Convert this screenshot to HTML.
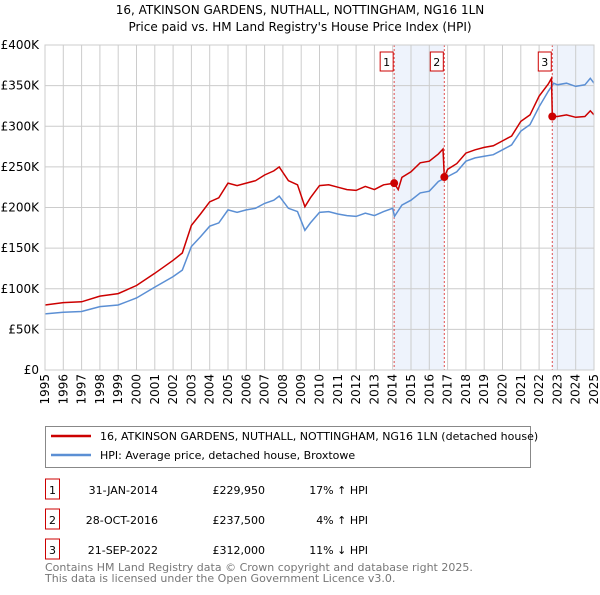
<!DOCTYPE html>
<html><head><meta charset="utf-8"><style>
body{margin:0;background:#fff;font-family:"Liberation Sans","DejaVu Sans",sans-serif;}
svg text{font-family:"DejaVu Sans","Liberation Sans",sans-serif;}
</style></head><body>
<svg id="c" width="600" height="590" xmlns="http://www.w3.org/2000/svg">
<text x="300" y="14" text-anchor="middle" font-size="12">16, ATKINSON GARDENS, NUTHALL, NOTTINGHAM, NG16 1LN</text>
<text x="300" y="31" text-anchor="middle" font-size="12">Price paid vs. HM Land Registry's House Price Index (HPI)</text>
<g id="plot"></g>
<rect x="45.5" y="426.5" width="485" height="41" fill="#fff" stroke="#888"/>
<line x1="51" y1="436" x2="91" y2="436" stroke="#cc0000" stroke-width="2.5"/>
<text x="100" y="440" font-size="11">16, ATKINSON GARDENS, NUTHALL, NOTTINGHAM, NG16 1LN (detached house)</text>
<line x1="51" y1="455" x2="91" y2="455" stroke="#5b8fd4" stroke-width="2.5"/>
<text x="100" y="459" font-size="11">HPI: Average price, detached house, Broxtowe</text>
<g id="tbl" font-size="11"></g>
<text x="45" y="571" font-size="11" fill="#777">Contains HM Land Registry data © Crown copyright and database right 2025.</text>
<text x="45" y="582" font-size="11" fill="#777">This data is licensed under the Open Government Licence v3.0.</text>
</svg>
<script>
const hpiYears=[1995,1996,1997,1998,1999,2000,2001,2002,2002.5,2003,2003.5,2004,2004.5,2005,2005.5,2006,2006.5,2007,2007.5,2007.8,2008.3,2008.8,2009.2,2009.5,2010,2010.5,2011,2011.5,2012,2012.5,2013,2013.5,2014,2014.1,2014.5,2015,2015.5,2016,2016.5,2017,2017.5,2018,2018.5,2019,2019.5,2020,2020.5,2021,2021.5,2022,2022.5,2022.8,2023,2023.5,2024,2024.5,2024.8,2025];
const hpiValues=[69,71,72,78,80,88.6,102,115,123,152,164,177,181,197,194,197,199,205,209,214,199,195,172,181,194,195,192,190,189,193,190,195,199,189,203,209,218,220,232,238,244,257,261,263,265,271,277,294,302,324,343,353,351,353,349,351,359,353];
const priceYears=[1995,1996,1997,1998,1999,2000,2001,2002,2002.5,2003,2003.5,2004,2004.5,2005,2005.5,2006,2006.5,2007,2007.5,2007.8,2008.3,2008.8,2009.2,2009.5,2010,2010.5,2011,2011.5,2012,2012.5,2013,2013.5,2014.08,2014.3,2014.5,2015,2015.5,2016,2016.5,2016.75,2016.82,2017,2017.5,2018,2018.5,2019,2019.5,2020,2020.5,2021,2021.5,2022,2022.5,2022.68,2022.72,2023,2023.5,2024,2024.5,2024.8,2025];
const priceValues=[80,83,84,91,94,104,119,135,144,178,192,207,212,230,227,230,233,240,245,250,233,228,201,212,227,228,225,222,221,226,222,228,229.95,222,237,244,255,257,266,272,237.5,247,254,267,271,274,276,282,288,306,314,337,352,359,312,312,314,311,312,319,314];
const saleYears=[2014.08,2016.82,2022.72];
const saleValues=[229.95,237.5,312];
const saleLabels=["1","2","3"];
const saleDates=["31-JAN-2014","28-OCT-2016","21-SEP-2022"];
const salePrices=["£229,950","£237,500","£312,000"];
const saleHpi=["17% ↑ HPI","4% ↑ HPI","11% ↓ HPI"];
const yTicks=[0,50,100,150,200,250,300,350,400];
const yTickLabels=["£0","£50K","£100K","£150K","£200K","£250K","£300K","£350K","£400K"];
const xTicks=[1995,1996,1997,1998,1999,2000,2001,2002,2003,2004,2005,2006,2007,2008,2009,2010,2011,2012,2013,2014,2015,2016,2017,2018,2019,2020,2021,2022,2023,2024,2025];

const L=45,R=594,T=45,B=370;
const xs=y=>L+(y-1995)/30*(R-L);
const ys=v=>B-v/400*(B-T);
const NS="http://www.w3.org/2000/svg";
const g=document.getElementById('plot');
function mk(tag,attrs,parent){const e=document.createElementNS(NS,tag);for(const k in attrs)e.setAttribute(k,attrs[k]);(parent||g).appendChild(e);return e;}
// shading
let s1=mk('rect',{x:xs(saleYears[0]),y:T,width:xs(saleYears[1])-xs(saleYears[0]),height:B-T,fill:'#eef3fc'});


let s2=mk('rect',{x:xs(saleYears[2]),y:T,width:R-xs(saleYears[2]),height:B-T,fill:'#eef3fc'});


// grid
xTicks.forEach((t,i)=>{
 let l=mk('line',{x1:xs(t),x2:xs(t),y1:T,y2:B,stroke:'#ccc','stroke-width':1});
 
 
 let tx=mk('text',{x:0,y:0,'font-size':12,'text-anchor':'end',transform:`translate(${xs(t)+4},374) rotate(-90)`});
 tx.textContent=t;
 
 
});
yTicks.forEach((t,i)=>{
 let l=mk('line',{x1:L,x2:R,y1:ys(t),y2:ys(t),stroke:'#ccc','stroke-width':1});
 
 
 let tx=mk('text',{x:39,y:ys(t)+4,'font-size':12,'text-anchor':'end'});
 tx.textContent=yTickLabels[i];
 
 
});
// sale vlines
saleYears.forEach((y,i)=>{
 let l=mk('line',{x1:xs(y),x2:xs(y),y1:T,y2:B,stroke:'#e05050','stroke-width':1,'stroke-dasharray':'2,2'});
 
 
});
const path=(xa,va)=>xa.map((y,i)=>(i?'L':'M')+xs(y).toFixed(1)+','+ys(va[i]).toFixed(1)).join('');
let hp=mk('path',{d:path(hpiYears,hpiValues),fill:'none',stroke:'#5b8fd4','stroke-width':1.5});


let pp=mk('path',{d:path(priceYears,priceValues),fill:'none',stroke:'#cc0000','stroke-width':1.5});


saleYears.forEach((y,i)=>{
 let c=mk('circle',{cx:xs(y),cy:ys(saleValues[i]),r:4,fill:'#cc0000'});
 
 
 let bx=mk('rect',{x:xs(y)-14,y:52,width:13,height:19,fill:'#fff',stroke:'#cc0000'});
 
 
 let t=mk('text',{x:xs(y)-7.5,y:66,'font-size':11,'text-anchor':'middle'});
 t.textContent=saleLabels[i];
 
 
});
let ax=mk('rect',{x:L,y:T,width:R-L,height:B-T,fill:'none',stroke:'#ccc'});


// table
const tb=document.getElementById('tbl');
saleLabels.forEach((lab,i)=>{
 const y=492+i*30;
 let b=mk('rect',{x:45.5,y:y-13,width:14,height:20,fill:'#fff',stroke:'#cc0000'},tb);
 
 
 let t0=mk('text',{x:52.5,y:y+2,'text-anchor':'middle'},tb);t0.textContent=lab;
 
 
 let t1=mk('text',{x:158,y:y+2,'text-anchor':'end'},tb);t1.textContent=saleDates[i];
 
 
 let t2=mk('text',{x:265,y:y+2,'text-anchor':'end'},tb);t2.textContent=salePrices[i];
 
 
 let t3=mk('text',{x:368,y:y+2,'text-anchor':'end'},tb);t3.textContent=saleHpi[i];
 
 
});
</script>
</body></html>
